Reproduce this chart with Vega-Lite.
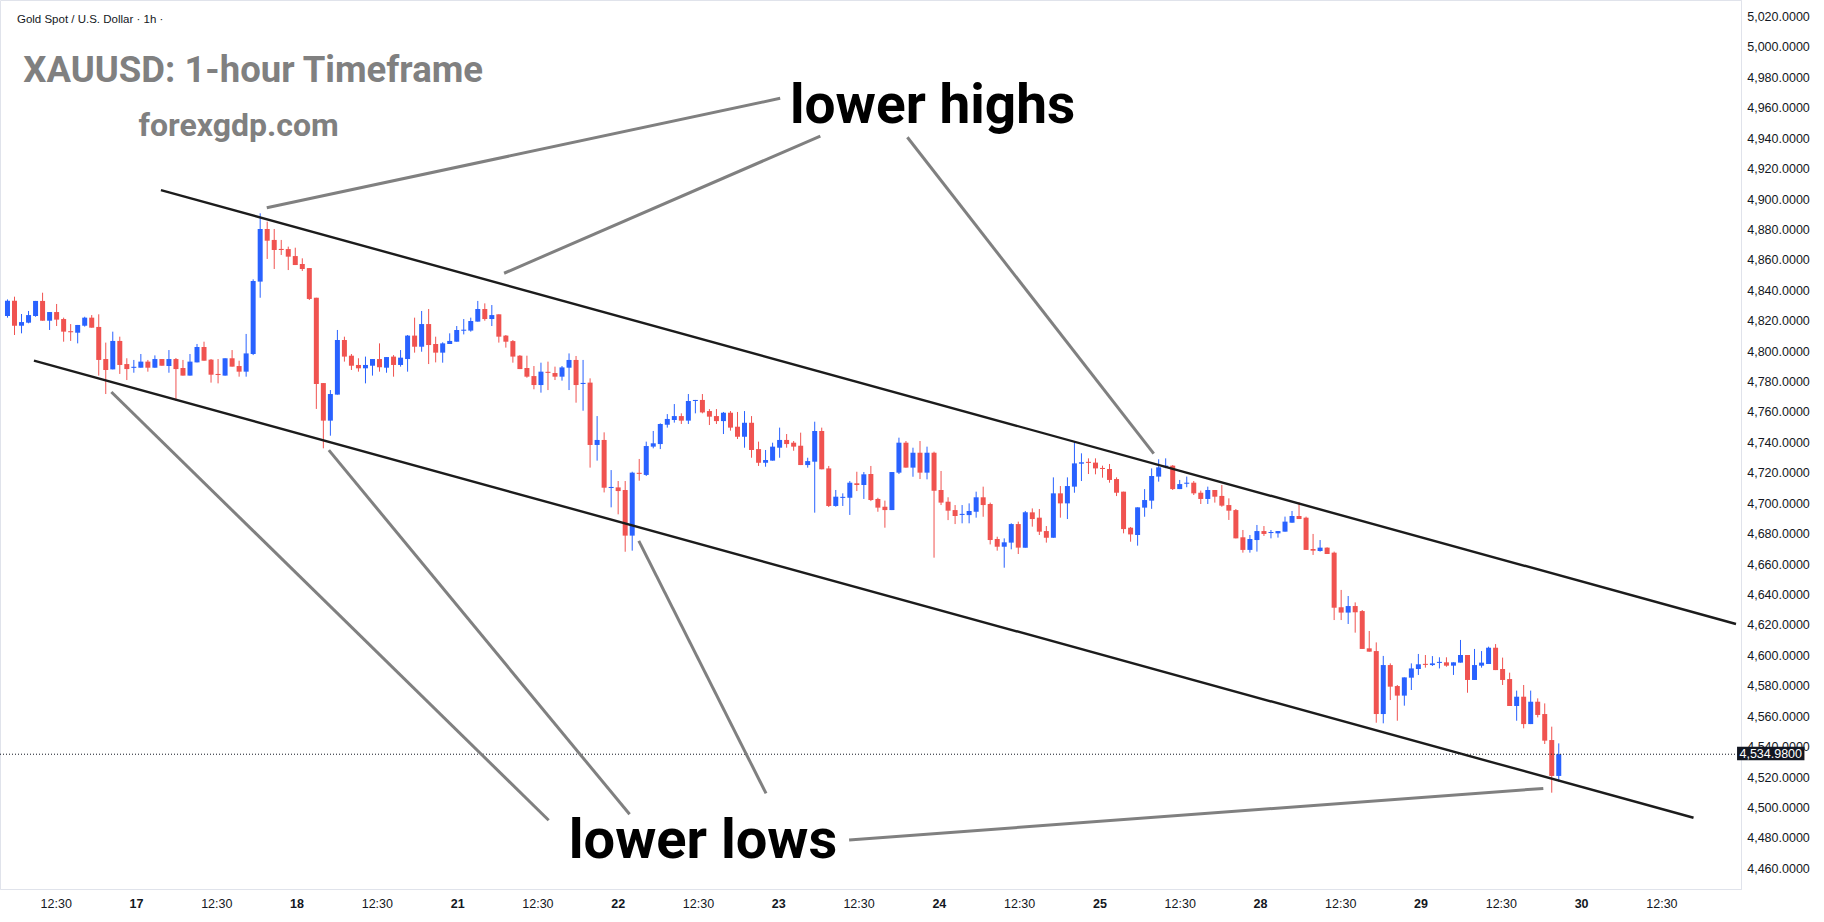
{
"$schema": "https://vega.github.io/schema/vega-lite/v6.json",
"width": 1741, "height": 889,
"autosize": {"type": "none"},
"padding": {"left": 0, "top": 0, "right": 83, "bottom": 33},
"background": "#ffffff",
"resolve": {"axis": {"x": "independent", "y": "independent"}},
"config": {"view": {"stroke": "#e0e3eb", "strokeWidth": 1}, "axis": {"grid": false, "ticks": false, "domainColor": "#e0e3eb", "labelColor": "#131722", "labelFont": "Liberation Sans", "labelFontSize": 12.5, "title": null, "labelOverlap": false, "labelFlush": false, "labelBound": false}},
"datasets": {
"candles": [
{"i":0,"o":4823.1,"h":4834.0,"l":4822.0,"c":4833.2},
{"i":1,"o":4833.2,"h":4835.8,"l":4810.6,"c":4816.7},
{"i":2,"o":4816.7,"h":4824.4,"l":4811.7,"c":4819.1},
{"i":3,"o":4818.7,"h":4826.4,"l":4818.3,"c":4823.7},
{"i":4,"o":4823.1,"h":4833.0,"l":4822.6,"c":4833.0},
{"i":5,"o":4833.0,"h":4838.4,"l":4820.0,"c":4820.0},
{"i":6,"o":4820.0,"h":4825.7,"l":4813.9,"c":4825.7},
{"i":7,"o":4825.7,"h":4831.0,"l":4816.5,"c":4820.7},
{"i":8,"o":4821.1,"h":4822.0,"l":4806.2,"c":4812.8},
{"i":9,"o":4813.1,"h":4817.8,"l":4806.7,"c":4812.4},
{"i":10,"o":4812.1,"h":4817.2,"l":4805.1,"c":4817.2},
{"i":11,"o":4816.7,"h":4822.6,"l":4816.1,"c":4822.0},
{"i":12,"o":4822.0,"h":4823.7,"l":4815.4,"c":4815.4},
{"i":13,"o":4815.9,"h":4824.2,"l":4783.9,"c":4794.2},
{"i":14,"o":4794.8,"h":4805.6,"l":4771.8,"c":4787.6},
{"i":15,"o":4788.0,"h":4812.8,"l":4788.0,"c":4806.7},
{"i":16,"o":4806.7,"h":4809.5,"l":4785.0,"c":4790.9},
{"i":17,"o":4791.5,"h":4795.3,"l":4781.0,"c":4788.2},
{"i":18,"o":4789.0,"h":4794.2,"l":4785.8,"c":4789.7},
{"i":19,"o":4789.1,"h":4798.1,"l":4789.1,"c":4793.1},
{"i":20,"o":4793.1,"h":4794.2,"l":4786.5,"c":4789.1},
{"i":21,"o":4789.1,"h":4797.2,"l":4789.1,"c":4794.8},
{"i":22,"o":4794.8,"h":4794.8,"l":4790.4,"c":4790.4},
{"i":23,"o":4790.2,"h":4800.7,"l":4785.8,"c":4794.8},
{"i":24,"o":4794.8,"h":4795.5,"l":4767.4,"c":4788.2},
{"i":25,"o":4788.9,"h":4794.2,"l":4783.9,"c":4783.9},
{"i":26,"o":4783.9,"h":4798.1,"l":4783.9,"c":4793.1},
{"i":27,"o":4792.6,"h":4804.7,"l":4792.6,"c":4802.7},
{"i":28,"o":4802.7,"h":4806.2,"l":4793.7,"c":4793.7},
{"i":29,"o":4794.4,"h":4794.8,"l":4779.3,"c":4784.5},
{"i":30,"o":4785.0,"h":4794.8,"l":4778.8,"c":4784.3},
{"i":31,"o":4783.9,"h":4795.3,"l":4783.9,"c":4795.3},
{"i":32,"o":4795.3,"h":4800.7,"l":4789.8,"c":4789.8},
{"i":33,"o":4790.2,"h":4793.7,"l":4783.2,"c":4786.5},
{"i":34,"o":4786.5,"h":4811.3,"l":4783.2,"c":4798.5},
{"i":35,"o":4798.1,"h":4847.2,"l":4797.4,"c":4846.1},
{"i":36,"o":4845.7,"h":4890.6,"l":4835.1,"c":4880.3},
{"i":37,"o":4880.3,"h":4885.1,"l":4860.6,"c":4872.6},
{"i":38,"o":4873.1,"h":4880.3,"l":4854.0,"c":4866.5},
{"i":39,"o":4867.2,"h":4873.1,"l":4863.2,"c":4866.5},
{"i":40,"o":4867.1,"h":4868.7,"l":4853.3,"c":4862.1},
{"i":41,"o":4862.5,"h":4868.0,"l":4856.6,"c":4856.6},
{"i":42,"o":4857.3,"h":4861.0,"l":4852.7,"c":4854.0},
{"i":43,"o":4854.6,"h":4854.6,"l":4833.6,"c":4834.3},
{"i":44,"o":4835.1,"h":4835.1,"l":4762.0,"c":4778.4},
{"i":45,"o":4779.0,"h":4779.0,"l":4736.1,"c":4754.3},
{"i":46,"o":4754.3,"h":4774.4,"l":4744.4,"c":4771.8},
{"i":47,"o":4771.4,"h":4813.9,"l":4771.4,"c":4807.3},
{"i":48,"o":4807.3,"h":4809.5,"l":4793.1,"c":4796.4},
{"i":49,"o":4797.0,"h":4798.1,"l":4787.6,"c":4790.4},
{"i":50,"o":4790.9,"h":4795.3,"l":4786.5,"c":4788.7},
{"i":51,"o":4788.7,"h":4796.4,"l":4778.8,"c":4790.9},
{"i":52,"o":4790.4,"h":4794.8,"l":4783.9,"c":4794.8},
{"i":53,"o":4794.8,"h":4805.1,"l":4786.5,"c":4789.4},
{"i":54,"o":4789.1,"h":4796.1,"l":4785.8,"c":4796.1},
{"i":55,"o":4796.4,"h":4797.4,"l":4783.2,"c":4790.9},
{"i":56,"o":4790.9,"h":4800.7,"l":4789.8,"c":4795.7},
{"i":57,"o":4794.8,"h":4810.6,"l":4786.5,"c":4810.2},
{"i":58,"o":4810.2,"h":4822.0,"l":4799.0,"c":4802.9},
{"i":59,"o":4802.9,"h":4826.4,"l":4799.6,"c":4817.8},
{"i":60,"o":4817.8,"h":4827.7,"l":4791.5,"c":4804.0},
{"i":61,"o":4804.7,"h":4809.5,"l":4792.6,"c":4799.0},
{"i":62,"o":4799.0,"h":4805.8,"l":4792.4,"c":4805.1},
{"i":63,"o":4804.7,"h":4811.7,"l":4804.7,"c":4806.7},
{"i":64,"o":4806.2,"h":4816.5,"l":4806.2,"c":4813.9},
{"i":65,"o":4813.4,"h":4821.1,"l":4811.0,"c":4814.1},
{"i":66,"o":4813.5,"h":4822.0,"l":4812.8,"c":4819.8},
{"i":67,"o":4819.4,"h":4833.0,"l":4819.4,"c":4827.7},
{"i":68,"o":4827.7,"h":4831.4,"l":4820.0,"c":4821.1},
{"i":69,"o":4821.1,"h":4830.3,"l":4816.5,"c":4823.7},
{"i":70,"o":4824.2,"h":4824.2,"l":4805.6,"c":4809.5},
{"i":71,"o":4810.2,"h":4810.6,"l":4802.3,"c":4806.2},
{"i":72,"o":4806.6,"h":4807.3,"l":4792.4,"c":4796.4},
{"i":73,"o":4797.0,"h":4797.4,"l":4788.2,"c":4788.2},
{"i":74,"o":4788.9,"h":4797.0,"l":4782.5,"c":4783.2},
{"i":75,"o":4783.6,"h":4790.2,"l":4774.9,"c":4777.7},
{"i":76,"o":4777.7,"h":4792.4,"l":4772.7,"c":4786.5},
{"i":77,"o":4786.4,"h":4793.1,"l":4774.4,"c":4785.7},
{"i":78,"o":4785.6,"h":4789.8,"l":4781.0,"c":4783.2},
{"i":79,"o":4783.2,"h":4790.2,"l":4780.6,"c":4789.3},
{"i":80,"o":4789.1,"h":4798.5,"l":4774.4,"c":4794.2},
{"i":81,"o":4794.2,"h":4796.8,"l":4766.1,"c":4777.7},
{"i":82,"o":4778.4,"h":4794.2,"l":4760.8,"c":4779.1},
{"i":83,"o":4779.3,"h":4782.1,"l":4723.4,"c":4738.3},
{"i":84,"o":4738.3,"h":4757.3,"l":4728.0,"c":4741.6},
{"i":85,"o":4741.6,"h":4746.6,"l":4707.1,"c":4710.2},
{"i":86,"o":4710.0,"h":4721.8,"l":4697.3,"c":4710.7},
{"i":87,"o":4710.4,"h":4714.6,"l":4692.7,"c":4708.0},
{"i":88,"o":4708.7,"h":4714.6,"l":4668.1,"c":4678.7},
{"i":89,"o":4678.7,"h":4720.7,"l":4668.8,"c":4720.1},
{"i":90,"o":4720.0,"h":4729.1,"l":4714.8,"c":4719.3},
{"i":91,"o":4718.6,"h":4740.5,"l":4717.9,"c":4737.6},
{"i":92,"o":4737.2,"h":4747.5,"l":4736.1,"c":4739.4},
{"i":93,"o":4738.9,"h":4752.5,"l":4735.6,"c":4752.1},
{"i":94,"o":4751.6,"h":4758.6,"l":4749.7,"c":4755.4},
{"i":95,"o":4754.7,"h":4765.2,"l":4753.0,"c":4757.3},
{"i":96,"o":4757.3,"h":4759.1,"l":4752.1,"c":4754.3},
{"i":97,"o":4754.3,"h":4771.8,"l":4752.1,"c":4767.2},
{"i":98,"o":4767.2,"h":4767.9,"l":4759.1,"c":4767.9},
{"i":99,"o":4767.9,"h":4771.8,"l":4759.1,"c":4759.7},
{"i":100,"o":4760.6,"h":4761.9,"l":4751.4,"c":4756.9},
{"i":101,"o":4757.3,"h":4761.9,"l":4752.1,"c":4754.0},
{"i":102,"o":4754.0,"h":4760.0,"l":4745.5,"c":4759.5},
{"i":103,"o":4759.5,"h":4760.6,"l":4747.7,"c":4749.7},
{"i":104,"o":4750.3,"h":4760.0,"l":4742.2,"c":4743.7},
{"i":105,"o":4743.7,"h":4760.6,"l":4736.5,"c":4752.9},
{"i":106,"o":4752.9,"h":4757.3,"l":4729.9,"c":4735.0},
{"i":107,"o":4735.6,"h":4740.5,"l":4724.5,"c":4726.6},
{"i":108,"o":4726.6,"h":4735.0,"l":4724.0,"c":4728.4},
{"i":109,"o":4728.0,"h":4739.8,"l":4728.0,"c":4737.2},
{"i":110,"o":4736.5,"h":4749.7,"l":4729.9,"c":4741.6},
{"i":111,"o":4741.6,"h":4745.5,"l":4736.5,"c":4738.9},
{"i":112,"o":4739.8,"h":4740.9,"l":4734.5,"c":4737.2},
{"i":113,"o":4737.8,"h":4746.4,"l":4725.1,"c":4725.1},
{"i":114,"o":4725.1,"h":4729.9,"l":4723.4,"c":4727.7},
{"i":115,"o":4727.3,"h":4753.6,"l":4693.8,"c":4747.5},
{"i":116,"o":4747.5,"h":4749.7,"l":4722.3,"c":4722.3},
{"i":117,"o":4722.9,"h":4724.5,"l":4697.5,"c":4698.2},
{"i":118,"o":4698.2,"h":4708.7,"l":4697.7,"c":4704.3},
{"i":119,"o":4703.5,"h":4706.5,"l":4698.2,"c":4704.2},
{"i":120,"o":4703.6,"h":4714.6,"l":4692.3,"c":4713.5},
{"i":121,"o":4713.1,"h":4720.7,"l":4708.0,"c":4712.0},
{"i":122,"o":4712.0,"h":4720.5,"l":4702.8,"c":4719.0},
{"i":123,"o":4719.2,"h":4724.5,"l":4701.4,"c":4702.1},
{"i":124,"o":4702.8,"h":4703.6,"l":4694.4,"c":4697.1},
{"i":125,"o":4697.7,"h":4701.7,"l":4683.9,"c":4695.5},
{"i":126,"o":4695.5,"h":4720.5,"l":4695.5,"c":4720.5},
{"i":127,"o":4720.1,"h":4743.1,"l":4719.2,"c":4739.8},
{"i":128,"o":4739.8,"h":4740.9,"l":4723.4,"c":4723.4},
{"i":129,"o":4723.4,"h":4736.5,"l":4717.4,"c":4733.2},
{"i":130,"o":4733.2,"h":4740.9,"l":4715.9,"c":4720.1},
{"i":131,"o":4720.1,"h":4737.2,"l":4715.7,"c":4733.2},
{"i":132,"o":4733.2,"h":4733.9,"l":4664.2,"c":4708.2},
{"i":133,"o":4708.7,"h":4721.2,"l":4698.8,"c":4700.4},
{"i":134,"o":4701.0,"h":4703.9,"l":4688.9,"c":4695.1},
{"i":135,"o":4695.5,"h":4698.8,"l":4686.3,"c":4691.6},
{"i":136,"o":4692.3,"h":4698.8,"l":4686.8,"c":4693.0},
{"i":137,"o":4692.2,"h":4699.9,"l":4686.8,"c":4694.9},
{"i":138,"o":4694.4,"h":4707.6,"l":4690.5,"c":4703.9},
{"i":139,"o":4703.9,"h":4710.9,"l":4691.1,"c":4698.8},
{"i":140,"o":4699.5,"h":4700.4,"l":4672.9,"c":4675.8},
{"i":141,"o":4676.5,"h":4678.0,"l":4668.8,"c":4671.4},
{"i":142,"o":4671.4,"h":4676.9,"l":4657.6,"c":4674.3},
{"i":143,"o":4674.1,"h":4686.8,"l":4669.7,"c":4686.3},
{"i":144,"o":4686.3,"h":4687.9,"l":4666.6,"c":4670.8},
{"i":145,"o":4670.8,"h":4694.9,"l":4670.8,"c":4694.0},
{"i":146,"o":4694.0,"h":4696.6,"l":4684.6,"c":4689.6},
{"i":147,"o":4690.5,"h":4696.2,"l":4679.1,"c":4681.3},
{"i":148,"o":4681.7,"h":4685.0,"l":4674.1,"c":4677.3},
{"i":149,"o":4677.3,"h":4717.0,"l":4677.3,"c":4706.5},
{"i":150,"o":4706.5,"h":4711.3,"l":4690.5,"c":4699.9},
{"i":151,"o":4699.9,"h":4717.0,"l":4689.6,"c":4711.3},
{"i":152,"o":4710.9,"h":4740.5,"l":4706.9,"c":4726.2},
{"i":153,"o":4726.0,"h":4732.8,"l":4714.6,"c":4726.9},
{"i":154,"o":4727.2,"h":4729.5,"l":4719.2,"c":4726.5},
{"i":155,"o":4726.7,"h":4729.5,"l":4719.0,"c":4722.9},
{"i":156,"o":4723.2,"h":4724.7,"l":4716.8,"c":4722.5},
{"i":157,"o":4722.5,"h":4725.8,"l":4713.5,"c":4715.3},
{"i":158,"o":4715.9,"h":4717.0,"l":4704.7,"c":4706.9},
{"i":159,"o":4707.6,"h":4707.6,"l":4680.2,"c":4683.0},
{"i":160,"o":4683.9,"h":4684.4,"l":4674.7,"c":4679.5},
{"i":161,"o":4679.1,"h":4697.3,"l":4672.1,"c":4697.3},
{"i":162,"o":4697.1,"h":4709.3,"l":4691.1,"c":4702.1},
{"i":163,"o":4701.7,"h":4722.9,"l":4696.3,"c":4717.9},
{"i":164,"o":4717.5,"h":4728.9,"l":4714.2,"c":4723.6},
{"i":165,"o":4723.6,"h":4729.5,"l":4723.0,"c":4724.7},
{"i":166,"o":4724.7,"h":4725.1,"l":4708.7,"c":4709.3},
{"i":167,"o":4709.3,"h":4715.3,"l":4709.3,"c":4712.6},
{"i":168,"o":4712.8,"h":4717.5,"l":4710.5,"c":4713.5},
{"i":169,"o":4713.5,"h":4714.6,"l":4705.4,"c":4706.5},
{"i":170,"o":4706.9,"h":4708.3,"l":4699.5,"c":4702.8},
{"i":171,"o":4702.8,"h":4710.9,"l":4699.5,"c":4708.7},
{"i":172,"o":4708.7,"h":4708.7,"l":4700.4,"c":4704.3},
{"i":173,"o":4704.8,"h":4712.0,"l":4697.7,"c":4698.4},
{"i":174,"o":4698.8,"h":4703.2,"l":4689.0,"c":4695.1},
{"i":175,"o":4695.5,"h":4696.2,"l":4676.9,"c":4676.9},
{"i":176,"o":4677.6,"h":4682.4,"l":4667.5,"c":4669.3},
{"i":177,"o":4669.3,"h":4679.1,"l":4667.5,"c":4676.5},
{"i":178,"o":4675.8,"h":4685.7,"l":4668.2,"c":4681.7},
{"i":179,"o":4681.7,"h":4685.0,"l":4678.5,"c":4679.8},
{"i":180,"o":4680.4,"h":4682.4,"l":4676.9,"c":4681.1},
{"i":181,"o":4680.2,"h":4681.7,"l":4677.4,"c":4681.7},
{"i":182,"o":4681.3,"h":4691.2,"l":4681.3,"c":4687.9},
{"i":183,"o":4687.2,"h":4694.9,"l":4687.2,"c":4691.6},
{"i":184,"o":4691.6,"h":4700.6,"l":4689.6,"c":4689.6},
{"i":185,"o":4690.5,"h":4691.2,"l":4669.3,"c":4669.3},
{"i":186,"o":4669.9,"h":4679.8,"l":4666.0,"c":4668.8},
{"i":187,"o":4668.6,"h":4675.8,"l":4668.2,"c":4670.8},
{"i":188,"o":4670.8,"h":4671.0,"l":4666.6,"c":4666.6},
{"i":189,"o":4667.5,"h":4668.2,"l":4623.2,"c":4631.3},
{"i":190,"o":4631.6,"h":4643.0,"l":4623.2,"c":4628.1},
{"i":191,"o":4628.1,"h":4639.0,"l":4620.6,"c":4632.4},
{"i":192,"o":4632.4,"h":4634.8,"l":4614.9,"c":4628.3},
{"i":193,"o":4629.1,"h":4629.8,"l":4604.2,"c":4604.2},
{"i":194,"o":4604.6,"h":4616.0,"l":4602.4,"c":4602.4},
{"i":195,"o":4602.8,"h":4608.5,"l":4555.7,"c":4561.4},
{"i":196,"o":4561.4,"h":4599.6,"l":4555.3,"c":4593.6},
{"i":197,"o":4593.6,"h":4594.7,"l":4570.6,"c":4579.4},
{"i":198,"o":4579.8,"h":4580.5,"l":4557.0,"c":4573.5},
{"i":199,"o":4573.5,"h":4585.5,"l":4566.9,"c":4585.5},
{"i":200,"o":4585.3,"h":4594.7,"l":4577.2,"c":4591.4},
{"i":201,"o":4591.0,"h":4600.9,"l":4587.1,"c":4594.1},
{"i":202,"o":4594.4,"h":4600.2,"l":4591.9,"c":4593.7},
{"i":203,"o":4593.6,"h":4599.5,"l":4593.0,"c":4594.7},
{"i":204,"o":4595.0,"h":4598.7,"l":4591.4,"c":4595.7},
{"i":205,"o":4595.4,"h":4598.7,"l":4592.5,"c":4593.2},
{"i":206,"o":4593.2,"h":4595.4,"l":4587.1,"c":4595.4},
{"i":207,"o":4595.2,"h":4610.1,"l":4595.2,"c":4600.2},
{"i":208,"o":4600.2,"h":4600.2,"l":4575.4,"c":4583.8},
{"i":209,"o":4583.8,"h":4604.2,"l":4583.8,"c":4593.6},
{"i":210,"o":4593.2,"h":4602.8,"l":4591.9,"c":4595.2},
{"i":211,"o":4594.3,"h":4605.7,"l":4594.3,"c":4605.0},
{"i":212,"o":4605.0,"h":4607.4,"l":4590.3,"c":4590.3},
{"i":213,"o":4591.0,"h":4598.5,"l":4580.5,"c":4583.8},
{"i":214,"o":4584.4,"h":4588.6,"l":4566.7,"c":4566.7},
{"i":215,"o":4566.7,"h":4576.8,"l":4557.0,"c":4572.8},
{"i":216,"o":4572.8,"h":4580.5,"l":4552.0,"c":4554.8},
{"i":217,"o":4554.8,"h":4576.8,"l":4554.8,"c":4569.5},
{"i":218,"o":4569.5,"h":4571.7,"l":4559.2,"c":4560.8},
{"i":219,"o":4561.4,"h":4568.4,"l":4541.7,"c":4543.9},
{"i":220,"o":4544.3,"h":4553.1,"l":4509.7,"c":4520.7},
{"i":221,"o":4520.7,"h":4542.1,"l":4516.9,"c":4534.98}
],
"trend": [
{"x1":21.86,"y1":4905.9,"x2":246.25,"y2":4620.6},
{"x1":3.77,"y1":4793.8,"x2":240.2,"y2":4493.2}
],
"pointers": [
{"x1":36.94,"y1":4894.3,"x2":110.08,"y2":4966.2},
{"x1":70.75,"y1":4851.2,"x2":115.8,"y2":4941.4},
{"x1":128.2,"y1":4940.6,"x2":163.3,"y2":4732.6},
{"x1":14.8,"y1":4773.1,"x2":77.1,"y2":4491.6},
{"x1":45.78,"y1":4734.9,"x2":88.63,"y2":4495.5},
{"x1":89.94,"y1":4675.2,"x2":108.07,"y2":4509.2},
{"x1":119.9,"y1":4478.6,"x2":218.8,"y2":4512.5}
]
},
"layer": [
{
"data": {"name": "candles"},
"mark": {"type": "rule", "strokeWidth": 1},
"encoding": {
"x": {"field": "i", "type": "quantitative", "scale": {"domain": [-0.354, 246.25], "nice": false, "zero": false},
"axis": {"orient": "bottom", "title": null, "values": [6.870,18.308,29.745,41.183,52.620,64.058,75.496,86.933,98.371,109.809,121.246,132.684,144.122,155.559,166.997,178.435,189.872,201.310,212.747,224.185,235.623],
"labelExpr": "['12:30','17','12:30','18','12:30','21','12:30','22','12:30','23','12:30','24','12:30','25','12:30','28','12:30','29','12:30','30','12:30'][round((datum.value-6.87)/11.438)]",
"labelPadding": 14, "labelBaseline": "middle", "labelOverlap": false, "labelFlush": false, "labelBound": false,
"labelFontWeight": {"condition": {"test": "round((datum.value-6.87)/11.438)%2==1", "value": "bold"}, "value": "normal"}}},
"y": {"field": "l", "type": "quantitative", "scale": {"domain": [4446.37, 5030.85], "nice": false, "zero": false},
"axis": {"orient": "right", "title": null, "values": [4460,4480,4500,4520,4540,4560,4580,4600,4620,4640,4660,4680,4700,4720,4740,4760,4780,4800,4820,4840,4860,4880,4900,4920,4940,4960,4980,5000,5020],
"format": ",.4f", "labelAlign": "center", "labelPadding": 37, "labelBaseline": "middle", "labelOverlap": false, "labelFlush": false, "labelBound": false}},
"y2": {"field": "h"},
"color": {"condition": {"test": "datum.c >= datum.o", "value": "#2962ff"}, "value": "#f05350"}
}
},
{
"data": {"name": "candles"},
"mark": {"type": "bar", "size": 5},
"encoding": {
"x": {"field": "i", "type": "quantitative", "axis": null},
"y": {"field": "o", "type": "quantitative", "axis": null},
"y2": {"field": "c"},
"color": {"condition": {"test": "datum.c >= datum.o", "value": "#2962ff"}, "value": "#f05350"}
}
},
{
"data": {"values": [{"p": 4534.98}]},
"mark": {"type": "rule", "strokeDash": [1, 2], "strokeWidth": 1, "color": "#131722"},
"encoding": {"y": {"field": "p", "type": "quantitative", "axis": null}}
},
{
"data": {"name": "trend"},
"mark": {"type": "rule", "strokeWidth": 2.4, "color": "#1c1c1c"},
"encoding": {"x": {"field": "x1", "type": "quantitative", "axis": null}, "y": {"field": "y1", "type": "quantitative", "axis": null}, "x2": {"field": "x2"}, "y2": {"field": "y2"}}
},
{
"data": {"name": "pointers"},
"mark": {"type": "rule", "strokeWidth": 3, "color": "#808080"},
"encoding": {"x": {"field": "x1", "type": "quantitative", "axis": null}, "y": {"field": "y1", "type": "quantitative", "axis": null}, "x2": {"field": "x2"}, "y2": {"field": "y2"}}
},
{
"data": {"values": [{"x1": 246.4, "x2": 256.0, "y1": 4531.0, "y2": 4539.9}]},
"mark": {"type": "rect", "color": "#131722"},
"encoding": {"x": {"field": "x1", "type": "quantitative", "axis": null}, "x2": {"field": "x2"}, "y": {"field": "y1", "type": "quantitative", "axis": null}, "y2": {"field": "y2"}}
},
{
"data": {"values": [{"x": 251.2, "y": 4534.98, "t": "4,534.9800"}]},
"mark": {"type": "text", "color": "#ffffff", "font": "Liberation Sans", "fontSize": 12.5, "align": "center", "baseline": "middle"},
"encoding": {"x": {"field": "x", "type": "quantitative", "axis": null}, "y": {"field": "y", "type": "quantitative", "axis": null}, "text": {"field": "t"}}
},
{
"data": {"values": [{"x": 1.35, "y": 5015.7, "t": "Gold Spot / U.S. Dollar · 1h ·"}]},
"mark": {"type": "text", "color": "#131722", "font": "Liberation Sans", "fontSize": 11.5, "align": "left", "baseline": "alphabetic"},
"encoding": {"x": {"field": "x", "type": "quantitative", "axis": null}, "y": {"field": "y", "type": "quantitative", "axis": null}, "text": {"field": "t"}}
},
{
"data": {"values": [{"x": 35.0, "y": 4976.9, "t": "XAUUSD: 1-hour Timeframe"}]},
"mark": {"type": "text", "color": "#808080", "font": "Roboto", "fontWeight": "bold", "fontSize": 36.5, "align": "center", "baseline": "alphabetic"},
"encoding": {"x": {"field": "x", "type": "quantitative", "axis": null}, "y": {"field": "y", "type": "quantitative", "axis": null}, "text": {"field": "t"}}
},
{
"data": {"values": [{"x": 32.93, "y": 4941.4, "t": "forexgdp.com"}]},
"mark": {"type": "text", "color": "#808080", "font": "Roboto", "fontWeight": "bold", "fontSize": 32, "align": "center", "baseline": "alphabetic"},
"encoding": {"x": {"field": "x", "type": "quantitative", "axis": null}, "y": {"field": "y", "type": "quantitative", "axis": null}, "text": {"field": "t"}}
},
{
"data": {"values": [{"x": 131.8, "y": 4950.0, "t": "lower highs"}]},
"mark": {"type": "text", "color": "#000000", "font": "Roboto", "fontWeight": "bold", "fontSize": 55, "align": "center", "baseline": "alphabetic"},
"encoding": {"x": {"field": "x", "type": "quantitative", "axis": null}, "y": {"field": "y", "type": "quantitative", "axis": null}, "text": {"field": "t"}}
},
{
"data": {"values": [{"x": 99.08, "y": 4466.7, "t": "lower lows"}]},
"mark": {"type": "text", "color": "#000000", "font": "Roboto", "fontWeight": "bold", "fontSize": 56, "align": "center", "baseline": "alphabetic"},
"encoding": {"x": {"field": "x", "type": "quantitative", "axis": null}, "y": {"field": "y", "type": "quantitative", "axis": null}, "text": {"field": "t"}}
}
]
}
